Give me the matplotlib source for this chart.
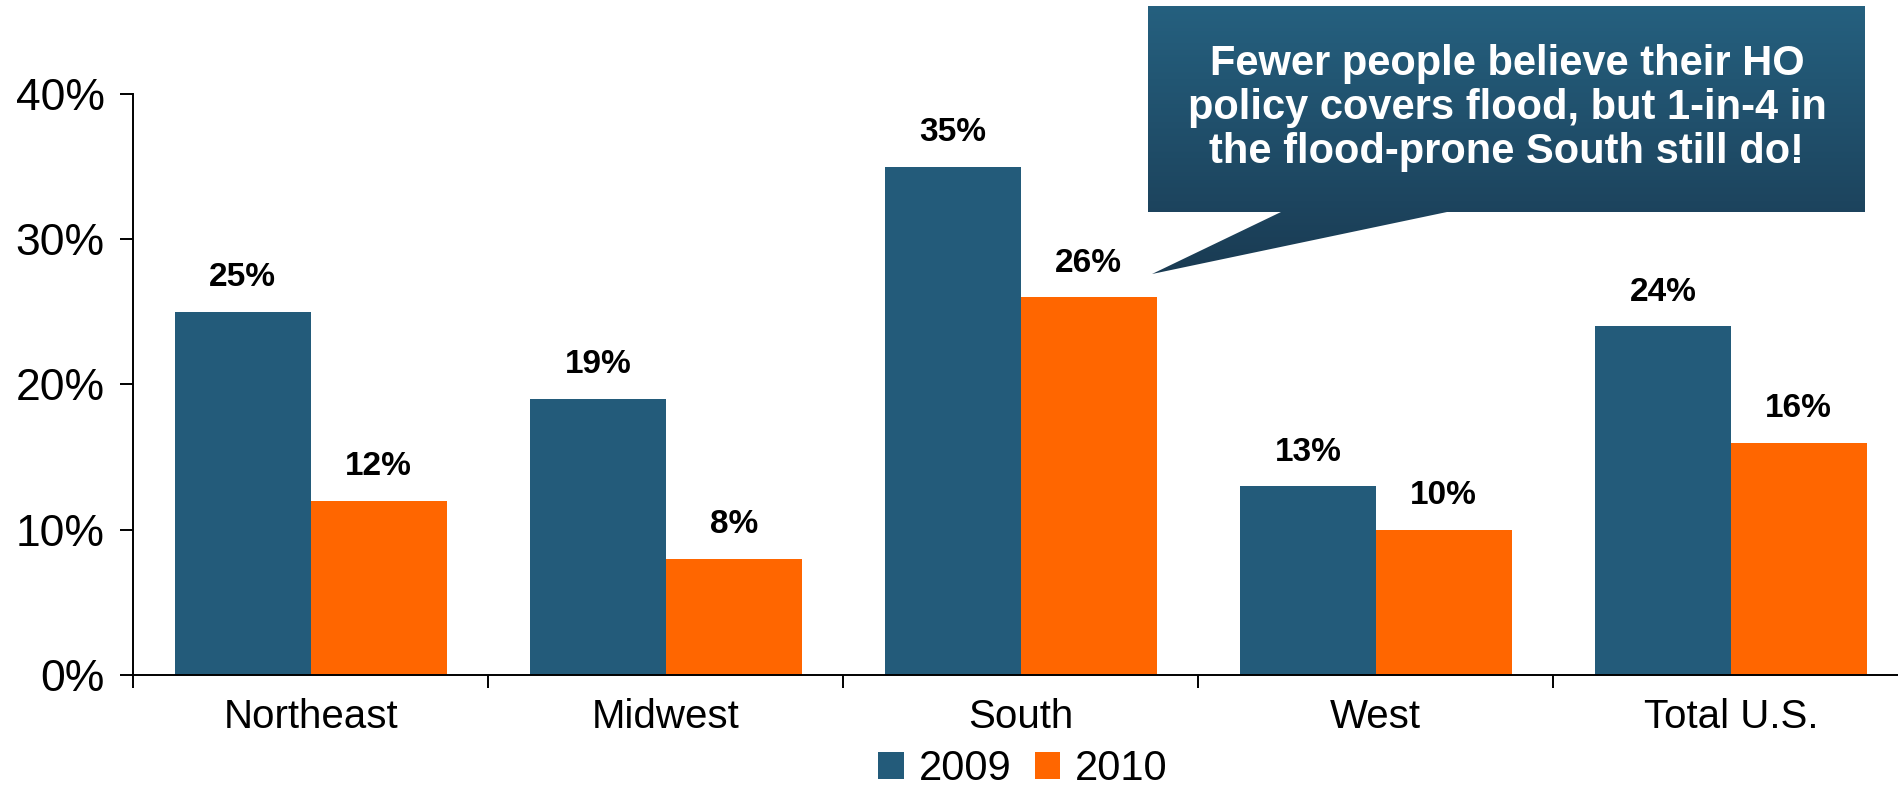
import numpy as np
import matplotlib
matplotlib.use("Agg")
import matplotlib.pyplot as plt
from matplotlib.patches import Polygon
from matplotlib.colors import LinearSegmentedColormap

###############################################

categories = ['Northeast', 'Midwest', 'South', 'West', 'Total U.S.']
v2009 = [25, 19, 35, 13, 24]
v2010 = [12, 8, 26, 10, 16]
series_names = ['2009', '2010']
yticks = [0, 10, 20, 30, 40]
callout = "Fewer people believe their HO\npolicy covers flood, but 1-in-4 in\nthe flood-prone South still do!"

###############################################

blue = '#235b7a'
orange = '#ff6600'
W, H = 1899, 788

plt.rcParams['font.family'] = ['Liberation Sans', 'DejaVu Sans']

fig = plt.figure(figsize=(W/100, H/100), dpi=100)
ax = fig.add_axes([133.3/W, (H-674.7)/H, 1775/W, 580.5/H])

x = np.arange(len(categories))
bw = 0.383
b1 = ax.bar(x - bw/2, v2009, bw, color=blue, label=series_names[0], zorder=2)
b2 = ax.bar(x + bw/2, v2010, bw, color=orange, label=series_names[1], zorder=2)

for bars, vals in [(b1, v2009), (b2, v2010)]:
    for b, v in zip(bars, vals):
        ax.annotate('%d%%' % v, (b.get_x() + b.get_width()/2, v),
                    xytext=(0, 24.5), textcoords='offset points',
                    ha='center', va='center', fontsize=24, fontweight='bold')

ax.set_xlim(-0.5, len(categories) - 0.5)
ax.set_ylim(0, 40)
ax.set_yticks(yticks)
ax.set_yticklabels(['%d%%' % t for t in yticks])
ax.tick_params(axis='y', length=9.4, width=1.4, pad=11, labelsize=32)

ax.set_xticks(np.arange(len(categories) + 1) - 0.5)
ax.set_xticklabels([])
ax.set_xticks(x, minor=True)
ax.set_xticklabels(categories, minor=True)
ax.tick_params(axis='x', which='major', length=9, width=1.4)
ax.tick_params(axis='x', which='minor', length=0, pad=17, labelsize=29)

for s in ['top', 'right']:
    ax.spines[s].set_visible(False)
for s in ['left', 'bottom']:
    ax.spines[s].set_linewidth(1.4)
    ax.spines[s].set_color('black')

ax.legend(loc='center', bbox_to_anchor=(1023/W, (H-769)/H), bbox_transform=fig.transFigure,
          ncol=2, frameon=False, fontsize=30, handlelength=0.62, handleheight=0.62,
          handletextpad=0.35, columnspacing=0.55, borderpad=0.1)

###############################################
# callout box with gradient

ov = fig.add_axes([0, 0, 1, 1], zorder=5)
ov.axis('off')
ov.patch.set_alpha(0)

pts = [(1148, 6), (1865, 6), (1865, 212), (1447, 212), (1152, 274), (1281, 212), (1148, 212)]
poly = Polygon(pts, closed=True, facecolor='none', edgecolor='none')
ov.add_patch(poly)
cmap = LinearSegmentedColormap.from_list('cb', ['#25607f', '#1a3b53'])
grad = np.linspace(0, 1, 256).reshape(-1, 1)
im = ov.imshow(grad, cmap=cmap, extent=(1148, 1865, 274, 6), aspect='auto')
im.set_clip_path(poly)
ov.set_xlim(0, W)
ov.set_ylim(H, 0)

ov.text(1507, 108, callout, ha='center', va='center', color='white',
        fontsize=30, fontweight='bold', linespacing=1.12)

fig.savefig('out.png', dpi=100)
